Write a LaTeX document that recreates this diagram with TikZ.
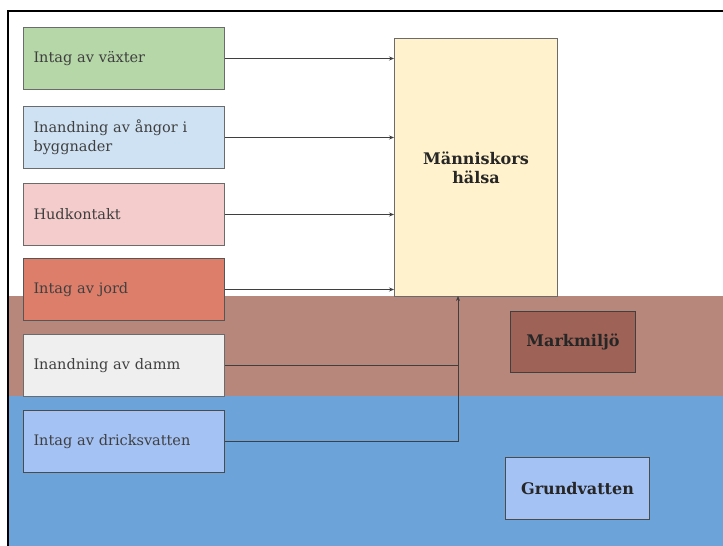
\documentclass[tikz,border=0pt]{standalone}
\usepackage{fontspec}
\setmainfont{DejaVu Serif}
\usetikzlibrary{positioning,arrows.meta}
\definecolor{inkgrey}{HTML}{3F3F3F}
\definecolor{edgegrey}{HTML}{6B6B6B}
\definecolor{fillgreen}{HTML}{B6D7A8}
\definecolor{fillsky}{HTML}{CFE2F3}
\definecolor{fillpink}{HTML}{F4CCCC}
\definecolor{fillberry}{HTML}{DD7E6B}
\definecolor{filllight}{HTML}{EFEFEF}
\definecolor{fillcorn}{HTML}{A4C2F4}
\definecolor{fillcream}{HTML}{FFF2CC}
\definecolor{soilband}{HTML}{B8877C}
\definecolor{soilbox}{HTML}{9E6257}
\definecolor{waterband}{HTML}{6CA3D8}
\tikzset{
  hb/.style={draw=edgegrey, line width=1pt, anchor=north west, inner sep=0pt,
             font=\fontsize{14.5}{19}\selectfont, text=inkgrey},
  hb path/.style={hb, minimum width=201pt, minimum height=62pt, text width=181pt, align=left},
  hb target/.style={hb, align=center, font=\fontsize{16}{19}\selectfont\bfseries, text=black!85},
  hb arr/.style={-{Stealth[length=5pt, width=4pt]}, line width=0.8pt, inkgrey},
  hb line/.style={line width=0.8pt, inkgrey},
}
\begin{document}
\begin{tikzpicture}[x=1pt, y=-1pt]
  \useasboundingbox (0,0) rectangle (723,546);
  % ground layers
  \fill[soilband] (9,296) rectangle (723,396);
  \fill[waterband] (9,396) rectangle (723,546);
  \draw[line width=2pt, black] (8,546) -- (8,11) -- (723,11);
  % exposure paths
  \node[hb path, fill=fillgreen] (veg) at (23,27) {Intag av växter};
  \node[hb path, fill=fillsky] (ang) at (23,106) {Inandning av ångor i\\byggnader};
  \node[hb path, fill=fillpink] (hud) at (23,183) {Hudkontakt};
  \node[hb path, fill=fillberry, draw=edgegrey!80!black] (jord) at (23,258) {Intag av jord};
  \node[hb path, fill=filllight] (damm) at (23,334) {Inandning av damm};
  \node[hb path, fill=fillcorn, draw=edgegrey!70!black] (dv) at (23,410) {Intag av dricksvatten};
  % receptor and media
  \node[hb target, fill=fillcream, minimum width=163pt, minimum height=258pt] (halsa) at (394,38) {Människors\\hälsa};
  \node[hb target, fill=soilbox, draw=edgegrey!60!black, minimum width=125pt, minimum height=61pt] (mark) at (510,311) {Markmiljö};
  \node[hb target, fill=fillcorn, draw=edgegrey!70!black, minimum width=144pt, minimum height=62pt] (gv) at (505,457) {Grundvatten};
  % connectors
  \coordinate (jn) at (458,296);
  \foreach \n in {veg, ang, hud, jord} \draw[hb arr] (\n.east) -- (\n.east -| halsa.west);
  \draw[hb line] (damm.east) -- (damm.east -| jn);
  \draw[hb arr] (dv.east) -| (jn);
\end{tikzpicture}
\end{document}
